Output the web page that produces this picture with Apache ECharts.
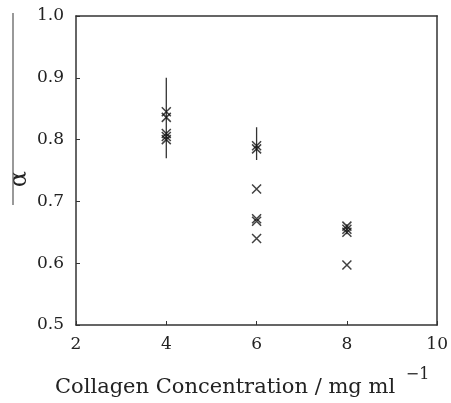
<!DOCTYPE html>
<html><head><meta charset="utf-8">
<script src="https://cdn.jsdelivr.net/npm/echarts@6/dist/echarts.min.js"></script>
<style>html,body{margin:0;padding:0;background:#fff}#c{width:451px;height:403px}</style>
</head><body><div id="c"></div>
<script>
var xTicks = [2, 4, 6, 8, 10];
var yTicks = [0.5, 0.6, 0.7, 0.8, 0.9, 1.0];
var conc4 = [0.845, 0.836, 0.81, 0.805, 0.80];
var conc6 = [0.79, 0.785, 0.72, 0.672, 0.668, 0.64];
var conc8 = [0.66, 0.655, 0.65, 0.597];
var concentrations = [4, 6, 8];
var errLow = [0.77, 0.767, 0.647];
var errHigh = [0.90, 0.82, 0.663];

var points = [];
[conc4, conc6, conc8].forEach(function (arr, i) {
  arr.forEach(function (v) { points.push([concentrations[i], v]); });
});
var errData = concentrations.map(function (c, i) { return [c, errLow[i], errHigh[i]]; });

var font = 'DejaVu Serif';
var chart = echarts.init(document.getElementById('c'));
var axisLine = { lineStyle: { color: '#333', width: 1.5 } };
chart.setOption({
  animation: false,
  grid: { left: 76, top: 16, right: 10, bottom: 78 },
  xAxis: [{
    type: 'value', min: xTicks[0], max: xTicks[xTicks.length - 1], interval: 2,
    axisLine: axisLine, axisTick: { inside: true, length: 4, lineStyle: { color: '#333' } },
    splitLine: { show: false },
    axisLabel: { fontFamily: font, fontSize: 17, color: '#222', margin: 11 }
  }, {
    type: 'value', position: 'top', min: 2, max: 10, interval: 2,
    axisLine: axisLine, axisTick: { show: false }, axisLabel: { show: false }, splitLine: { show: false }
  }],
  yAxis: [{
    type: 'value', min: yTicks[0], max: yTicks[yTicks.length - 1], interval: 0.1,
    axisLine: axisLine, axisTick: { inside: true, length: 4, lineStyle: { color: '#333' } },
    splitLine: { show: false },
    axisLabel: { fontFamily: font, fontSize: 17, color: '#222', margin: 12,
      formatter: function (v) { return v.toFixed(1); } }
  }, {
    type: 'value', position: 'right', min: 0.5, max: 1.0, interval: 0.1,
    axisLine: axisLine, axisTick: { show: false }, axisLabel: { show: false }, splitLine: { show: false }
  }],
  title: {
    left: 50, top: 358,
    text: '{a|Collagen Concentration / mg ml }{s|−1}',
    textStyle: {
      fontWeight: 'normal',
      rich: {
        a: { fontFamily: font, fontSize: 21, fontWeight: 'normal', color: '#222', padding: [14, 0, 0, 0] },
        s: { fontFamily: font, fontSize: 16, fontWeight: 'normal', color: '#222', padding: [0, 0, 12, 4] }
      }
    }
  },
  graphic: [
    { type: 'text', left: 8, top: 171, rotation: Math.PI / 2,
      style: { text: 'α', font: '24px "DejaVu Serif"', fill: '#222' } },
    { type: 'line', shape: { x1: 13, y1: 13, x2: 13, y2: 205 }, style: { stroke: '#555', lineWidth: 1.2 } }
  ],
  series: [{
    type: 'custom',
    renderItem: function (params, api) {
      var top = api.coord([api.value(0), api.value(2)]);
      var bot = api.coord([api.value(0), api.value(1)]);
      return { type: 'line', shape: { x1: top[0], y1: top[1], x2: bot[0], y2: bot[1] },
        style: { stroke: '#333', lineWidth: 1.3 } };
    },
    encode: { x: 0, y: [1, 2] },
    data: errData,
    z: 1
  }, {
    type: 'scatter',
    symbol: 'path://M0,0L10,10M10,0L0,10',
    symbolSize: 9,
    itemStyle: { color: 'rgba(0,0,0,0)', borderColor: '#111', borderWidth: 1.5 },
    data: points,
    z: 3
  }]
});
</script></body></html>
